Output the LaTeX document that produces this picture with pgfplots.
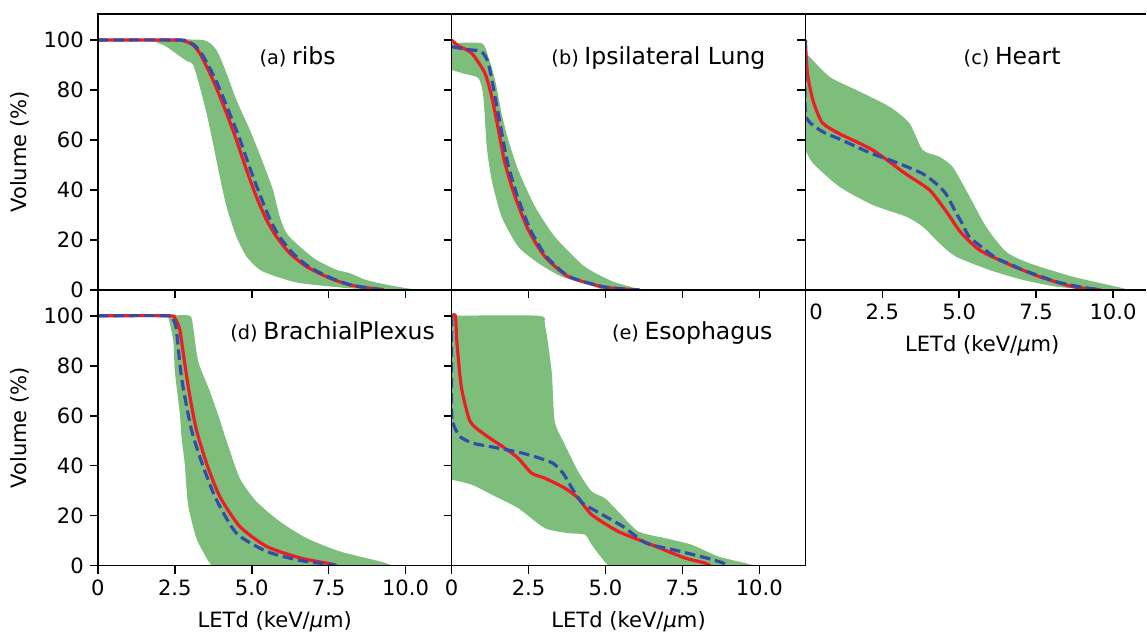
\documentclass[border=0pt]{standalone}
\usepackage{fontspec}
\setmainfont{DejaVu Sans}
\usepackage{pgfplots}
\pgfplotsset{compat=1.18}
\usepgfplotslibrary{fillbetween}

\definecolor{bandGreen}{RGB}{125,190,125}
\definecolor{meanRed}{RGB}{238,28,36}
\definecolor{meanBlue}{RGB}{52,76,168}
\newcommand{\tickfont}{\fontsize{12}{14}\selectfont}
\newcommand{\paneltitle}[2]{{\fontsize{11}{13}\selectfont(#1)} {\fontsize{13.4}{16}\selectfont #2}}

\pgfplotsset{
  panel/.style={
    scale only axis, width=7.08cm, height=5.52cm, anchor=south west,
    xmin=0, xmax=11.5, ymin=0, ymax=110.4,
    tick align=outside, tick pos=left, axis on top,
    xtick={0,2.5,5,7.5,10}, ytick={0,20,40,60,80,100},
    xticklabels={}, yticklabels={},
    major tick length=0.16cm,
    axis line style={line width=0.9pt},
    every tick/.style={black, line width=0.9pt},
    tick label style={font=\tickfont},
    label style={font=\tickfont},
    /pgf/number format/assume math mode=true,
    ylabel style={at={(axis description cs:-0.2203,0.5)}, anchor=center},
    xlabel style={at={(axis description cs:0.5,-0.203)}, anchor=center},
  },
  withy/.style={yticklabels={0,20,40,60,80,100}, ylabel={Volume (\%)}},
  withx/.style={xticklabels={0,2.5,5.0,7.5,10.0}, xlabel={LETd (keV/\textit{μ}m)}},
  edge/.style={draw=none, mark=none, smooth, tension=0.4, forget plot},
  redcurve/.style={meanRed, line width=1.8pt, line join=round, mark=none, smooth, tension=0.4},
  bluecurve/.style={meanBlue, line width=1.8pt, dash pattern=on 6pt off 2.8pt, mark=none, smooth, tension=0.4},
}

\begin{document}
\begin{tikzpicture}
\path (0,0) rectangle (22.94,-12.66);

% (a) ribs
\begin{axis}[panel, withy, at={(1.96cm,-5.8cm)}]
  \addplot[edge, name path=up] coordinates {
    (1.69,100) (3.4,100) (3.85,96) (4.18,86.7) (4.5,76) (4.94,64) (5.37,50.7)
    (5.69,40) (5.91,29.3) (6.13,22.7) (6.56,17.3) (7.1,12) (7.75,8) (8.18,6.7)
    (8.7,4) (9.4,2) (10.2,0.3) (10.4,0)
  };
  \addplot[edge, name path=lo] coordinates {
    (1.69,100) (2.2,97.5) (2.6,94) (2.9,91.5) (3.09,90.2) (3.31,81.3)
    (3.53,70.7) (3.74,58.7) (3.96,45.3) (4.18,33.3) (4.5,21.3) (4.83,13.3)
    (5.26,8) (5.8,5.3) (6.56,2.7) (8.18,0.6) (9.5,0)
  };
  \addplot[bandGreen] fill between[of=up and lo];
  \addplot[redcurve] coordinates {
    (0,100) (2.5,100) (2.8,99.6) (3.05,98.3) (3.31,94.7) (3.74,84) (4.18,70.7)
    (4.5,60) (4.83,48) (5.15,37.3) (5.48,28) (5.8,21.3) (6.23,14.7) (6.78,9.3)
    (7.53,4.7) (8.18,2) (8.8,0.7) (9.3,0)
  };
  \addplot[bluecurve] coordinates {
    (0,100) (2.6,100) (2.9,99.5) (3.15,97.8) (3.4,94) (3.83,84) (4.28,70.7)
    (4.62,60) (4.96,48) (5.29,37.3) (5.6,28) (5.9,21.3) (6.33,14.7) (6.85,9.3)
    (7.58,4.7) (8.2,2) (8.8,0.7) (9.3,0)
  };
  \node[anchor=base] at (axis cs:6.49,90) {\paneltitle{a}{ribs}};
\end{axis}

% (b) Ipsilateral Lung
\begin{axis}[panel, at={(9.04cm,-5.8cm)}]
  \addplot[edge, name path=up] coordinates {
    (0,98.7) (0.97,98.7) (1.19,93.3) (1.41,84) (1.62,70.7) (1.84,60) (2.16,48)
    (2.71,33.3) (3.35,21.3) (4.3,9.5) (5.2,3.5) (5.8,1.2) (6.0,0)
  };
  \addplot[edge, name path=lo] coordinates {
    (0,88) (0.4,86.5) (0.87,84.7) (1.03,77.3) (1.14,57.3) (1.3,44) (1.62,29.3)
    (2.16,17.3) (2.81,10.7) (3.57,5.3) (4.33,2.7) (4.9,0)
  };
  \addplot[bandGreen] fill between[of=up and lo];
  \addplot[redcurve] coordinates {
    (0,100) (0.2,97.8) (0.65,94.7) (1.08,86.7) (1.3,77.3) (1.52,64) (1.73,50.7)
    (2.06,37.3) (2.49,24) (3.03,13.3) (3.79,5.3) (4.87,1.3) (5.5,0.4) (6.1,0)
  };
  \addplot[bluecurve] coordinates {
    (0,97.3) (0.5,96.2) (0.97,95.3) (1.19,90.7) (1.41,77.3) (1.61,64) (1.82,50.7)
    (2.14,37.3) (2.56,24) (3.08,13.3) (3.82,5.3) (4.9,1.3) (5.5,0.4) (6.1,0)
  };
  \node[anchor=base] at (axis cs:6.72,90) {\paneltitle{b}{Ipsilateral Lung}};
\end{axis}

% (c) Heart, cut at the right edge as in the source figure
\begin{axis}[panel, at={(16.12cm,-5.8cm)}, width=6.82cm, xmax=11.08,
  axis x line*=bottom, axis y line*=left,
  extra description/.code={\draw[line width=0.9pt] (rel axis cs:0,1) -- (rel axis cs:1,1);},
  xticklabels={\makebox[0pt][l]{\hspace{2.3pt}0},2.5,5.0,7.5,10.0},
  xlabel style={at={(axis description cs:0.519,-0.203)}},
  xlabel={LETd (keV/\textit{μ}m)}]
  \addplot[edge, name path=up] coordinates {
    (0,95) (0.78,85.3) (1.65,80) (2.73,73.3) (3.38,66.7) (3.81,56) (4.35,53.3)
    (4.78,49.3) (5.22,40) (5.87,25.3) (6.52,15.3) (7.27,10.7) (8.68,5.3)
    (10.3,0.7) (10.4,0)
  };
  \addplot[edge, name path=lo] coordinates {
    (0,56) (0.24,50.7) (1.1,41.3) (2.18,34) (3.27,29.3) (3.81,25.3) (4.35,18.7)
    (4.89,13.3) (5.97,8) (7.05,4) (8.14,1.3) (9.2,0)
  };
  \addplot[bandGreen] fill between[of=up and lo];
  \addplot[redcurve] coordinates {
    (0,100) (0.03,92) (0.08,85.3) (0.24,76) (0.54,67) (1.1,62.5) (2.18,56)
    (3.25,46.5) (4.03,40) (4.57,31.5) (5.05,23) (5.65,16) (6.52,10.7) (7.6,5.3)
    (8.68,1.3) (9.44,0.2) (9.6,0)
  };
  \addplot[bluecurve] coordinates {
    (0,100) (0,70.7) (0.32,65.3) (0.65,62.7) (1.08,60.5) (1.65,57.3) (2.16,54.5)
    (2.73,52) (3.25,49.5) (3.81,46.5) (4.2,43) (4.55,38.7) (4.89,31) (5.09,26.7)
    (5.32,21.3) (5.74,17) (6.2,12.7) (6.71,10) (7.06,8) (8.14,3.3) (9.0,1)
    (9.6,0)
  };
  \node[anchor=base] at (axis cs:6.72,90) {\paneltitle{c}{Heart}};
\end{axis}

% (d) BrachialPlexus
\begin{axis}[panel, withy, withx, at={(1.96cm,-11.32cm)}]
  \addplot[edge, name path=up] coordinates {
    (2.28,100) (2.99,100) (3.1,95) (3.26,81.7) (3.64,69.7) (3.96,58.4)
    (4.18,50) (4.61,35) (5.15,25.7) (5.91,17.7) (6.78,11) (7.86,5.7)
    (9.16,1.7) (9.6,0)
  };
  \addplot[edge, name path=lo] coordinates {
    (2.28,100) (2.45,90) (2.5,77.7) (2.66,61) (2.72,51) (2.82,41) (2.93,24.4)
    (3.2,11) (3.53,3) (3.7,0)
  };
  \addplot[bandGreen] fill between[of=up and lo];
  \addplot[redcurve] coordinates {
    (0,100) (2.3,100) (2.5,99) (2.66,94.4) (2.82,81) (2.99,67.7) (3.2,54.4)
    (3.53,41) (3.96,27.7) (4.61,15.7) (5.48,7.7) (6.56,3.1) (7.64,0.5) (7.7,0)
  };
  \addplot[bluecurve] coordinates {
    (0,100) (2.25,100) (2.45,98.5) (2.55,94.4) (2.72,75) (3.04,54.4) (3.42,39.7)
    (3.85,26.4) (4.5,13) (5.48,5.7) (6.56,2.1) (7.64,0.3) (7.7,0)
  };
  \node[anchor=base] at (axis cs:7.63,90.4) {\paneltitle{d}{BrachialPlexus}};
\end{axis}

% (e) Esophagus
\begin{axis}[panel, withx, at={(9.04cm,-11.32cm)}]
  \addplot[edge, name path=up] coordinates {
    (0,100) (2.81,100) (3.03,96.4) (3.25,77.7) (3.35,57.7) (3.68,48.4)
    (4.11,37.7) (4.55,29.7) (4.98,27) (5.41,21.7) (6.06,13.7) (6.93,11)
    (7.79,8.4) (8.66,3.7) (9.52,1.1) (9.85,0)
  };
  \addplot[edge, name path=lo] coordinates {
    (0,34.4) (0.65,32.4) (1.3,28.4) (2.16,23) (3.03,15) (3.79,13) (4.33,12.4)
    (4.55,8.4) (4.87,3.1) (5.09,0)
  };
  \addplot[bandGreen] fill between[of=up and lo];
  \addplot[redcurve] coordinates {
    (0,100) (0.12,100) (0.16,91) (0.2,85) (0.32,71) (0.6,57.7) (1.08,52.4)
    (1.73,47) (2.16,43) (2.6,37) (3.03,35) (3.68,31) (4.11,27) (4.55,20.4)
    (5.41,13.7) (6.49,8.4) (7.57,3.1) (8.22,1.1) (8.4,0)
  };
  \addplot[bluecurve] coordinates {
    (0,100) (0,60) (0.04,57) (0.26,51.7) (0.69,49) (1.23,47.7) (1.78,46.4)
    (2.31,45) (2.86,43) (3.29,41) (3.62,37) (3.94,30.4) (4.26,25) (4.81,21)
    (5.56,15.7) (6.32,9) (7.19,6.4) (8.27,3.1) (8.81,1.1) (8.95,0)
  };
  \node[anchor=base] at (axis cs:7.82,90.4) {\paneltitle{e}{Esophagus}};
\end{axis}

\end{tikzpicture}
\end{document}
